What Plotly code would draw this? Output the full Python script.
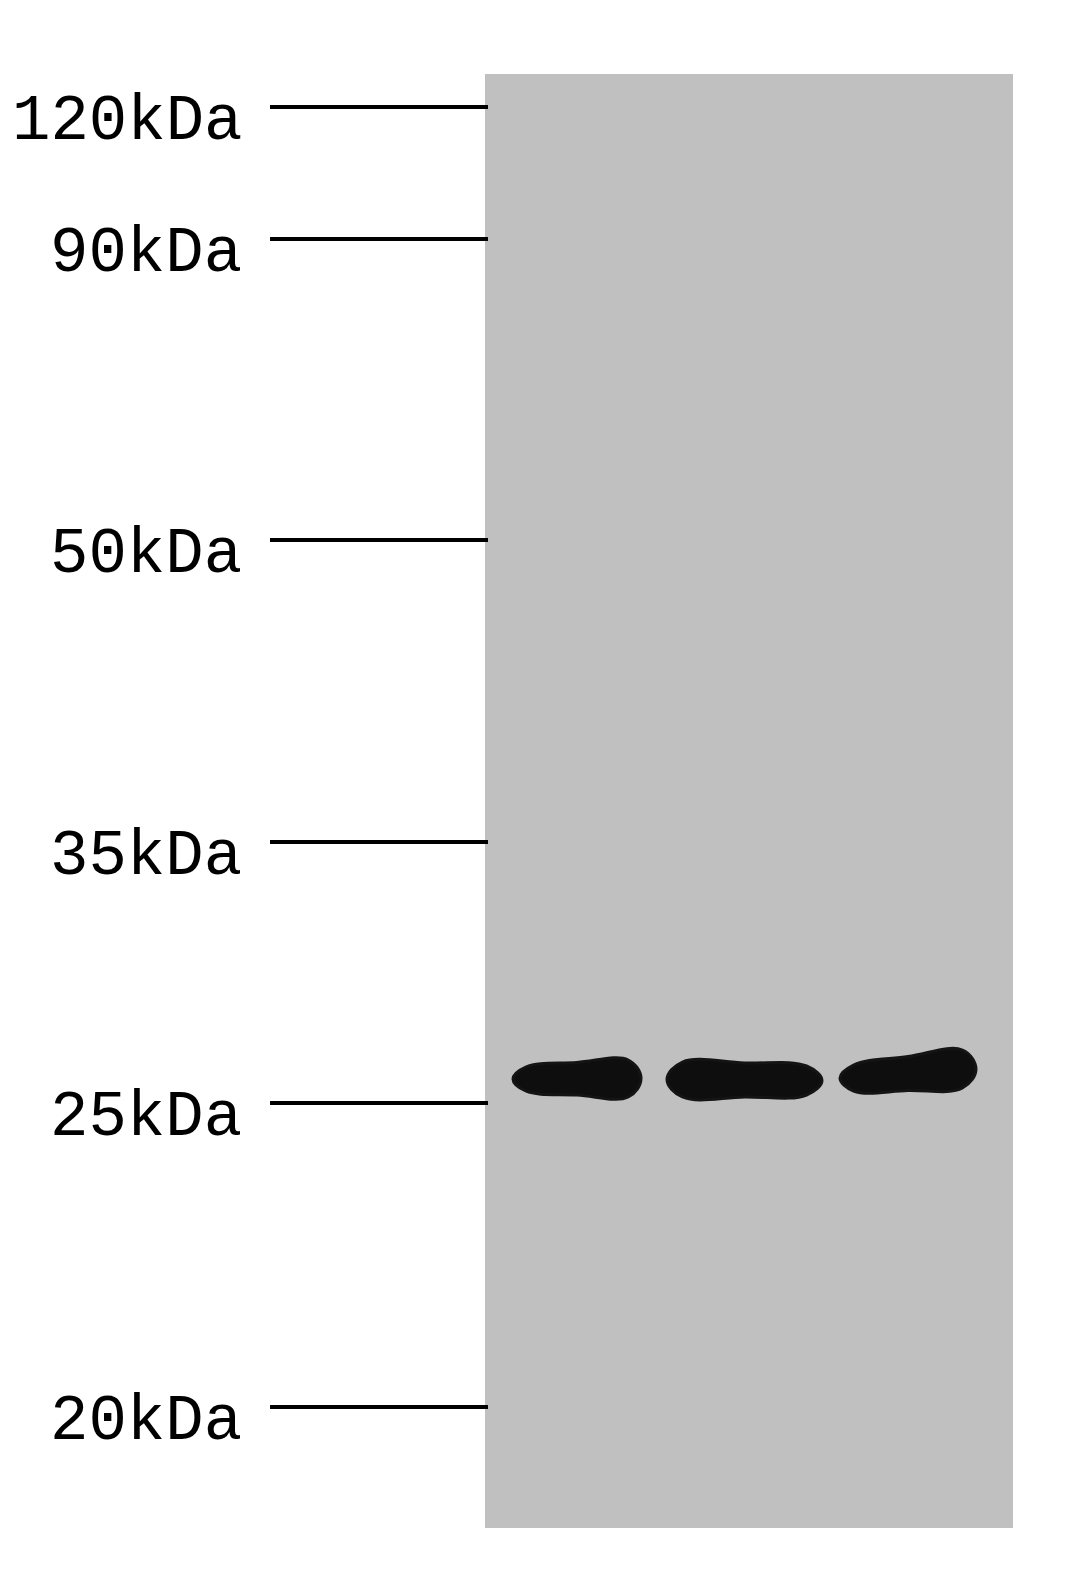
import plotly.graph_objects as go

# ---- data read from the blot ----
marker_labels = ["120kDa", "90kDa", "50kDa", "35kDa", "25kDa", "20kDa"]
marker_migration = [107, 239, 540, 842, 1103, 1407]   # migration position of ladder bands

lanes = ["Lane 1", "Lane 2", "Lane 3"]
band_left = [513, 667, 840]
band_right = [641, 822, 976]
band_top_left = [1067, 1062, 1065]
band_bot_left = [1091, 1097, 1091]
band_top_right = [1060, 1066, 1050]
band_bot_right = [1097, 1095, 1088]

gel_left, gel_right, gel_top, gel_bottom = 485, 1013, 74, 1528

W, H = 1080, 1595
fig = go.Figure()

# gel membrane
fig.add_shape(type="rect", xref="x", yref="y", x0=gel_left, x1=gel_right,
              y0=gel_top, y1=gel_bottom, fillcolor="#c0c0c0", line=dict(width=0),
              layer="below")

# ladder tick lines + labels
for lab, m in zip(marker_labels, marker_migration):
    fig.add_shape(type="line", xref="x", yref="y", x0=270, x1=gel_left + 3, y0=m, y1=m,
                  line=dict(color="black", width=4))
    fig.add_annotation(x=244, y=m + 15, xref="x", yref="y", text=lab, showarrow=False,
                       xanchor="right", yanchor="middle",
                       font=dict(family="Liberation Mono", size=64, color="black"))

# bands
for i, name in enumerate(lanes):
    xl, xr = band_left[i], band_right[i]
    tl, bl, tr, br = band_top_left[i], band_bot_left[i], band_top_right[i], band_bot_right[i]
    r = (xr - xl) * 0.1
    xm = (xl + xr) / 2
    xs = [xl, xl + r, xm, xr - r, xr, xr - r, xm, xl + r, xl]
    ys = [(tl + bl) / 2, tl, (tl + tr) / 2 - 1, tr, (tr + br) / 2, br, (bl + br) / 2 + 1, bl,
          (tl + bl) / 2]
    fig.add_trace(go.Scatter(x=xs, y=ys, mode="lines", fill="toself", name=name,
                             line=dict(color="#141414", width=3, shape="spline", smoothing=1.1),
                             fillcolor="#0e0e0e", hoverinfo="name", showlegend=False))

fig.update_xaxes(range=[0, W], visible=False, fixedrange=True)
fig.update_yaxes(range=[H, 0], visible=False, fixedrange=True)
fig.update_layout(width=W, height=H, margin=dict(l=0, r=0, t=0, b=0),
                  paper_bgcolor="white", plot_bgcolor="white", showlegend=False)

fig.write_html("out.html", config={"displayModeBar": False},
               post_script="document.body.style.margin='0';document.body.style.padding='0';")
